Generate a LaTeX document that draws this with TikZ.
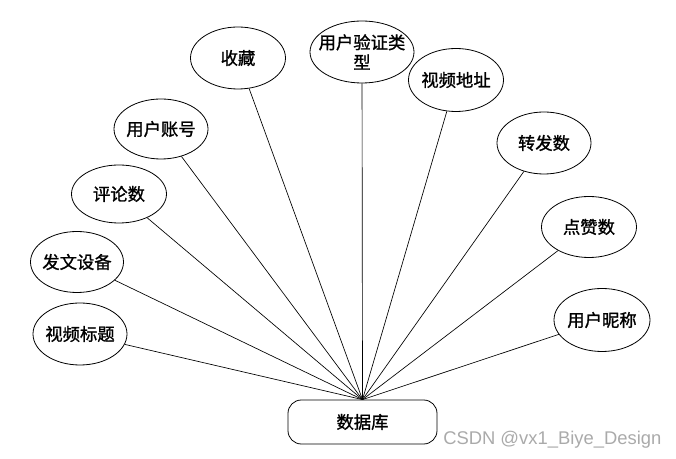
\documentclass[tikz,border=0pt]{standalone}
\usepackage{fontspec}
\usetikzlibrary{shapes.geometric}
\newfontfamily\cjk{Noto Sans CJK SC}[FakeBold=1.2]
\newfontfamily\wmfont{Liberation Sans}
\definecolor{wmgray}{RGB}{170,170,170}
\begin{document}
\begin{tikzpicture}[x=0.75pt,y=-0.75pt,
  lbl/.style={font=\cjk\fontsize{13}{15}\selectfont, align=center},
  link/.style={line width=0.5pt}]
\useasboundingbox (0,0) rectangle (676,459);
\tikzset{attrxy/.style 2 args={draw, ellipse, line width=0.6pt, inner sep=0pt, minimum width=#1*0.75pt, minimum height=#2*0.75pt}}
\node[attrxy={95}{62}] (sc) at (238,58) {};
\node[lbl] at (sc.center) {收藏};
\node[attrxy={104}{62}] (yz) at (362,52) {};
\node[lbl] at (362,52) {用户验证类\\型};
\node[attrxy={95}{63}] (dz) at (456,80) {};
\node[lbl] at (dz.center) {视频地址};
\node[attrxy={94}{62}] (zf) at (544,143) {};
\node[lbl] at (zf.center) {转发数};
\node[attrxy={95}{61}] (dz2) at (589,227) {};
\node[lbl] at (dz2.center) {点赞数};
\node[attrxy={96}{63}] (nc) at (602,320) {};
\node[lbl] at (nc.center) {用户昵称};
\node[attrxy={94}{60}] (zh) at (161,129) {};
\node[lbl] at (zh.center) {用户账号};
\node[attrxy={95}{58}] (pl) at (119,194) {};
\node[lbl] at (pl.center) {评论数};
\node[attrxy={93}{61}] (sb) at (77,262) {};
\node[lbl] at (sb.center) {发文设备};
\node[attrxy={94}{62}] (bt) at (80,334) {};
\node[lbl] at (bt.center) {视频标题};
\node[draw, line width=0.6pt, rounded corners=10pt, minimum width=149*0.75pt, minimum height=44*0.75pt, inner sep=0pt] (db) at (362.5,422) {};
\node[lbl] at (db.center) {数据库};
\foreach \n in {sc,yz,dz,zf,dz2,nc,zh,pl,sb,bt} \draw[link] (db.north) -- (\n);
\node[anchor=west, inner sep=0pt, text=wmgray, font=\wmfont\fontsize{13.8}{16}\selectfont] (wm) at (443,440) {CSDN @vx1\_Biye\_Design};
\end{tikzpicture}
\end{document}
